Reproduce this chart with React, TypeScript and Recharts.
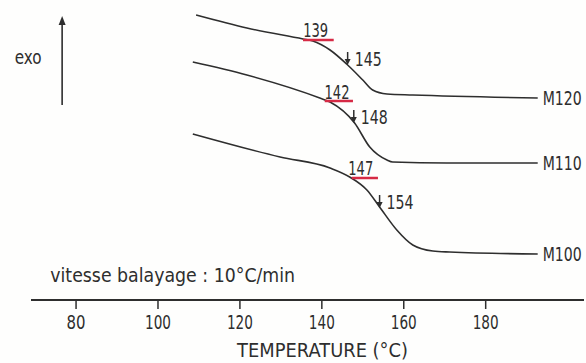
import React from 'react';
import { LineChart, Line, XAxis, YAxis, ReferenceDot, ReferenceLine } from 'recharts';

// Temperature (°C) and relative heat-flow signal (arbitrary units, exo up)
const m120Temp = [109.3, 121.7, 135.4, 137.8, 142.0, 146.3, 150.0, 152.4, 155.9, 162.2, 192.7];
const m120Flow = [285, 272, 261, 259, 250, 235, 220, 210, 206, 205, 202];

const m110Temp = [108.5, 121.7, 139.5, 142.0, 148.0, 151.7, 155.9, 157.3, 170.5, 192.7];
const m110Flow = [238, 225, 202, 198, 177, 153, 140, 138, 137, 137];

const m100Temp = [108.5, 129.8, 142.0, 146.8, 151.0, 154.1, 158.3, 162.2, 167.1, 171.2, 192.7];
const m100Flow = [166, 143, 132, 123, 110, 93, 70, 55, 49, 48, 46];

const seriesNames = ['M120', 'M110', 'M100'];
const tempTicks = [80, 100, 120, 140, 160, 180];

// onset temperatures (underlined in red) and their label anchors
const onsetValues = [139, 142, 147];
const onsetLabelTemp = [138.5, 143.7, 149.5];
const onsetLabelFlow = [270, 208, 132];
const onsetLineFrom = [135.4, 140.7, 147.3];
const onsetLineTo = [142.9, 147.6, 153.7];
const onsetLineFlow = [260, 199, 122];

// midpoint temperatures marked with down arrows
const peakValues = [145, 148, 154];
const peakTemp = [146.3, 147.8, 154.1];
const peakFlow = [235, 177, 92];

const FONT = "'DejaVu Sans', sans-serif";
const INK = '#2e2e2e';
const RED = '#d62a45';

const toData = (t: number[], f: number[]) => t.map((x, i) => ({ t: x, v: f[i] }));
const series = [toData(m120Temp, m120Flow), toData(m110Temp, m110Flow), toData(m100Temp, m100Flow)];

let ctx: CanvasRenderingContext2D | null = null;
const measure = (s: string, size: number) => {
  if (!ctx && typeof document !== 'undefined') ctx = document.createElement('canvas').getContext('2d');
  if (!ctx) return s.length * size * 0.6;
  ctx.font = `${size}px 'DejaVu Sans'`;
  return ctx.measureText(s).width || s.length * size * 0.6;
};

// text squeezed horizontally to the narrow stencil lettering of the original
const T = (props: any) => {
  const { x, y, w, size = 19, anchor = 'start', children } = props;
  const s = String(children);
  const k = Math.min(1, w / measure(s, size));
  return (
    <text
      transform={`translate(${x},${y}) scale(${k},1)`}
      x={0}
      y={0}
      dy="0.36em"
      textAnchor={anchor}
      fill={INK}
      fontSize={size}
      fontFamily={FONT}
    >
      {s}
    </text>
  );
};

const TickLabel = (props: any) => {
  const { x, y, payload } = props;
  const s = String(payload.value);
  return (
    <T x={x} y={y + 7} w={s.length === 2 ? 19 : 26} anchor="middle" size={20}>
      {s}
    </T>
  );
};

const AxisTitle = (props: any) => {
  const vb = props.viewBox;
  return (
    <T x={vb.x + vb.width / 2 + 15} y={vb.y + vb.height - 13} w={171} anchor="middle" size={20}>
      TEMPERATURE (°C)
    </T>
  );
};

export default function App() {
  return (
    <div style={{ position: 'absolute', left: 0, top: 0, width: 586, height: 363, background: '#fefefd' }}>
      <LineChart width={586} height={363} margin={{ top: 0, right: 2, bottom: 0, left: 31 }}>
        <XAxis
          type="number"
          dataKey="t"
          domain={[69, 204]}
          ticks={tempTicks}
          allowDataOverflow
          height={63}
          tickSize={9}
          tickMargin={6}
          axisLine={{ stroke: INK, strokeWidth: 2 }}
          tickLine={{ stroke: INK, strokeWidth: 1.5 }}
          tick={<TickLabel />}
          label={<AxisTitle />}
        />
        <YAxis hide type="number" domain={[0, 300]} />
        {series.map((d, i) => (
          <Line
            key={seriesNames[i]}
            data={d}
            dataKey="v"
            type="monotone"
            stroke={INK}
            strokeWidth={1.6}
            dot={false}
            isAnimationActive={false}
          />
        ))}
        {series.map((d, i) => (
          <ReferenceDot
            key={'lab' + i}
            x={d[d.length - 1].t}
            y={d[d.length - 1].v}
            r={0}
            shape={(p: any) => (
              <T x={p.cx + 5} y={p.cy} w={39} size={20}>
                {seriesNames[i]}
              </T>
            )}
          />
        ))}
        {onsetValues.map((val, i) => (
          <ReferenceLine
            key={'ul' + i}
            segment={[{ x: onsetLineFrom[i], y: onsetLineFlow[i] }, { x: onsetLineTo[i], y: onsetLineFlow[i] }]}
            stroke={RED}
            strokeWidth={2.5}
          />
        ))}
        {onsetValues.map((val, i) => (
          <ReferenceDot
            key={'on' + i}
            x={onsetLabelTemp[i]}
            y={onsetLabelFlow[i]}
            r={0}
            shape={(p: any) => (
              <T x={p.cx} y={p.cy} w={25} anchor="middle" size={20}>
                {val}
              </T>
            )}
          />
        ))}
        {peakValues.map((val, i) => (
          <ReferenceDot
            key={'pk' + i}
            x={peakTemp[i]}
            y={peakFlow[i]}
            r={0}
            shape={(p: any) => (
              <g>
                <line x1={p.cx} y1={p.cy - 13} x2={p.cx} y2={p.cy - 4} stroke={INK} strokeWidth={1.5} />
                <polygon points={`${p.cx - 3},${p.cy - 6} ${p.cx + 3},${p.cy - 6} ${p.cx},${p.cy}`} fill={INK} />
                <T x={p.cx + 7} y={p.cy - 6} w={27} size={20}>
                  {val}
                </T>
              </g>
            )}
          />
        ))}
        <ReferenceDot
          x={76.6}
          y={195}
          r={0}
          shape={(p: any) => (
            <g>
              <line x1={p.cx} y1={p.cy} x2={p.cx} y2={p.cy - 84} stroke={INK} strokeWidth={1.6} />
              <polygon points={`${p.cx - 3.5},${p.cy - 80} ${p.cx + 3.5},${p.cy - 80} ${p.cx},${p.cy - 89}`} fill={INK} />
              <T x={p.cx - 34} y={p.cy - 48} w={27} anchor="middle" size={19}>
                exo
              </T>
            </g>
          )}
        />
        <ReferenceDot
          x={73.7}
          y={25}
          r={0}
          shape={(p: any) => (
            <T x={p.cx} y={p.cy} w={245} size={19}>
              vitesse balayage : 10°C/min
            </T>
          )}
        />
      </LineChart>
    </div>
  );
}
